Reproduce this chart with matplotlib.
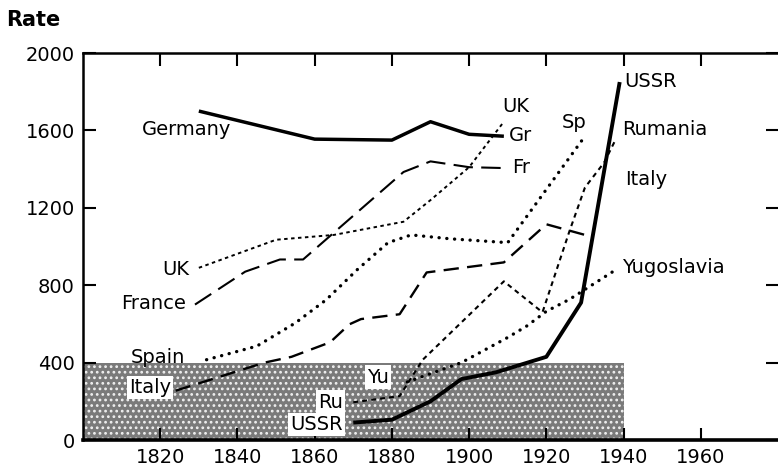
import matplotlib
matplotlib.use("Agg")
import matplotlib.pyplot as plt
from matplotlib.patches import Rectangle

plt.rcParams["font.family"] = ["DejaVu Sans"]
plt.rcParams["lines.scale_dashes"] = False
plt.rcParams["hatch.linewidth"] = 1.2

# data (year, rate)
germany_x = [1830, 1860, 1880, 1890, 1900, 1909]
germany_y = [1700, 1555, 1550, 1645, 1580, 1570]

france_x = [1829, 1842, 1851, 1857, 1883, 1890, 1900, 1910]
france_y = [700, 870, 933, 933, 1385, 1440, 1410, 1405]

uk_x = [1830, 1850, 1865, 1883, 1890, 1900, 1909]
uk_y = [890, 1035, 1060, 1128, 1240, 1410, 1645]

spain_x = [1832, 1845, 1855, 1863, 1871, 1879, 1885, 1895, 1910, 1930]
spain_y = [415, 485, 605, 725, 880, 1020, 1060, 1040, 1020, 1570]

italy_x = [1824, 1847, 1854, 1864, 1869, 1872, 1882, 1889, 1909, 1920, 1930]
italy_y = [255, 400, 430, 505, 598, 625, 650, 866, 918, 1115, 1060]

rumania_x = [1870, 1882, 1888, 1909, 1919, 1926, 1930, 1935, 1938]
rumania_y = [195, 227, 415, 820, 660, 1080, 1305, 1435, 1555]

yugo_x = [1884, 1898, 1910, 1915, 1920, 1926, 1938]
yugo_y = [300, 400, 530, 590, 665, 727, 880]

ussr_x = [1870, 1880, 1890, 1898, 1907, 1920, 1929, 1939]
ussr_y = [90, 105, 200, 315, 350, 430, 710, 1850]

x_ticks = [1820, 1840, 1860, 1880, 1900, 1920, 1940, 1960]
y_ticks = [0, 400, 800, 1200, 1600, 2000]

fig = plt.figure(figsize=(7.78, 4.76), dpi=100)
ax = fig.add_axes([0.1067, 0.0756, 0.8933, 0.813])

# shaded box 1800-1940, 0-400
ax.add_patch(Rectangle((1800, 0), 140, 400, facecolor="#7a7a7a",
                       edgecolor="#f0f0f0", hatch="...", lw=0, zorder=0))

k = "black"
ax.plot(germany_x, germany_y, color=k, lw=2.5, solid_capstyle="butt")
ax.plot(ussr_x, ussr_y, color=k, lw=2.8, solid_capstyle="butt")
ax.plot(france_x, france_y, color=k, lw=1.5, linestyle=(0, (14, 6)))
ax.plot(italy_x, italy_y, color=k, lw=1.7, linestyle=(0, (11, 6)))
ax.plot(uk_x, uk_y, color=k, lw=1.4, linestyle=(0, (2.5, 2.5)))
ax.plot(rumania_x, rumania_y, color=k, lw=1.5, linestyle=(0, (3.5, 3)))
ax.plot(spain_x, spain_y, color=k, lw=2.4, linestyle=(0, (0.1, 5.5)),
        dash_capstyle="round")
ax.plot(yugo_x, yugo_y, color=k, lw=2.4, linestyle=(0, (0.1, 5.5)),
        dash_capstyle="round")

fs = 14
box = dict(facecolor="white", edgecolor="none", pad=1.5)
ax.text(1838.5, 1603, "Germany", fontsize=fs, ha="right", va="center")
ax.text(1827.5, 881, "UK", fontsize=fs, ha="right", va="center")
ax.text(1826.8, 706, "France", fontsize=fs, ha="right", va="center")
ax.text(1826.5, 428, "Spain", fontsize=fs, ha="right", va="center")
ax.text(1822.8, 273, "Italy", fontsize=fs, ha="right", va="center", bbox=box)
ax.text(1876.4, 325, "Yu", fontsize=fs, ha="center", va="center", bbox=box)
ax.text(1864, 196, "Ru", fontsize=fs, ha="center", va="center", bbox=box)
ax.text(1860.5, 82, "USSR", fontsize=fs, ha="center", va="center", bbox=box)
ax.text(1908.6, 1722, "UK", fontsize=fs, ha="left", va="center")
ax.text(1910.4, 1572, "Gr", fontsize=fs, ha="left", va="center")
ax.text(1911.2, 1407, "Fr", fontsize=fs, ha="left", va="center")
ax.text(1924, 1639, "Sp", fontsize=fs, ha="left", va="center")
ax.text(1940.3, 1851, "USSR", fontsize=fs, ha="left", va="center")
ax.text(1939.5, 1603, "Rumania", fontsize=fs, ha="left", va="center")
ax.text(1940.3, 1345, "Italy", fontsize=fs, ha="left", va="center")
ax.text(1939.5, 892, "Yugoslavia", fontsize=fs, ha="left", va="center")

ax.set_xlim(1800, 1980)
ax.set_ylim(0, 2000)
ax.set_xticks(x_ticks)
ax.set_yticks(y_ticks)
ax.tick_params(direction="in", length=9, width=1.5, top=True, right=True,
               labelsize=fs, pad=6)
ax.spines["right"].set_visible(False)
ax.spines["left"].set_linewidth(1.8)
ax.spines["top"].set_linewidth(1.8)
ax.spines["bottom"].set_linewidth(2.6)

fig.text(0.008, 0.958, "Rate", fontsize=15, fontweight="bold", ha="left", va="center")

fig.savefig("out.png", dpi=100)
